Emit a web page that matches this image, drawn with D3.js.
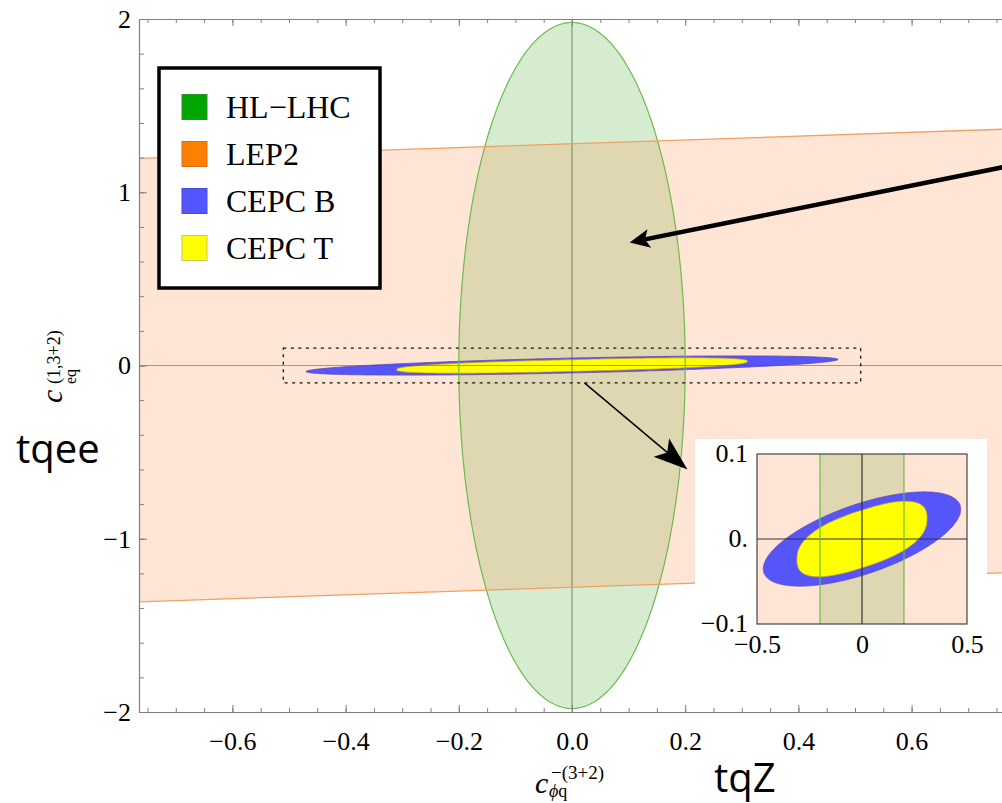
<!DOCTYPE html>
<html><head><meta charset="utf-8">
<script src="https://cdn.jsdelivr.net/npm/d3@7"></script>
<style>body{margin:0;background:#fff} svg{display:block}</style>
</head><body>
<svg id="c" width="1002" height="803"></svg>
<script>
// ---------- data ----------
const xTickValues = [-0.6, -0.4, -0.2, 0.0, 0.2, 0.4, 0.6];
const xTickLabels = ["−0.6", "−0.4", "−0.2", "0.0", "0.2", "0.4", "0.6"];
const yTickValues = [-2, -1, 0, 1, 2];
const yTickLabels = ["−2", "−1", "0", "1", "2"];
const insetXTickValues = [-0.5, 0, 0.5];
const insetXTickLabels = ["−0.5", "0", "0.5"];
const insetYTickValues = [-0.1, 0, 0.1];
const insetYTickLabels = ["−0.1", "0.", "0.1"];
const seriesNames = ["HL−LHC", "LEP2", "CEPC B", "CEPC T"];
// HL-LHC ellipse: [centerX, centerY, halfWidthX, halfHeightY]
const hlLhcEllipse = [0, 0, 0.2, 1.98];
// LEP2 band: y = slope*x ± halfWidth  -> [slope, halfWidth]
const lep2Band = [0.11, 1.28];
// CEPC contours: [halfWidthX, tilt dy/dx, halfHeight at x=0, shape exponent]
const cepcB = [0.47, 0.0745, 0.043, 2];
const cepcT = [0.31, 0.078, 0.034, 2.5];
// zoom window shown in the inset: [[xmin,xmax],[ymin,ymax]]
const zoomBox = [[-0.51, 0.51], [-0.1, 0.1]];
const insetDomain = [[-0.5, 0.5], [-0.1, 0.1]];
// annotation arrows in data coords: [[x0,y0],[x1,y1]]
const bigArrow = [[0.78, 1.157], [0.102, 0.71]];
const zoomArrow = [[0.022, -0.1], [0.204, -0.6]];

// ---------- styles ----------
const C = {
  greenFill: "#d5ecd0", greenLine: "#6cbb4c",
  bandFill: "rgba(250,154,92,0.26)", bandLine: "#f0a060",
  blue: "#5555fa", blueLine: "#6a4aa8",
  yellow: "#ffff00", yellowLine: "#c89a40",
  legend: ["#00a600", "#ff8000", "#5555ff", "#ffff00"],
  legendStroke: ["#2f8f2f", "#d07020", "#4a4ad0", "#c8c860"]
};
const serif = "'Liberation Serif','Times New Roman',serif";
const sans = "'Open Sans','DejaVu Sans',sans-serif";

const svg = d3.select("#c");
const x = d3.scaleLinear().domain([-0.765, 0.765]).range([139, 1005]);
const y = d3.scaleLinear().domain([-2, 2]).range([712, 19]);

function contour(p, steps = 360) {
  const [a, k, c, n] = p, pts = [];
  for (let i = 0; i < steps; i++) {
    const t = i / steps * 2 * Math.PI;
    const ct = Math.cos(t), st = Math.sin(t);
    const u = Math.sign(ct) * Math.pow(Math.abs(ct), 2 / n);
    const v = Math.sign(st) * Math.pow(Math.abs(st), 2 / n);
    pts.push([a * u, k * a * u + c * v]);
  }
  return pts;
}
function ellipse(e, steps = 360) {
  const [cx, cy, rx, ry] = e, pts = [];
  for (let i = 0; i < steps; i++) {
    const t = i / steps * 2 * Math.PI;
    pts.push([cx + rx * Math.cos(t), cy + ry * Math.sin(t)]);
  }
  return pts;
}

const defs = svg.append("defs");

function drawPanel(g, xs, ys, clipId, axisColors) {
  const [r0, r1] = xs.range(), [b0, b1] = ys.range();
  defs.append("clipPath").attr("id", clipId).append("rect")
    .attr("x", r0).attr("y", b1).attr("width", r1 - r0).attr("height", b0 - b1);
  const p = g.append("g").attr("clip-path", `url(#${clipId})`);
  const line = d3.line().x(d => xs(d[0])).y(d => ys(d[1])).curve(d3.curveLinearClosed);
  const hl = ellipse(hlLhcEllipse);
  p.append("path").attr("d", line(hl)).attr("fill", C.greenFill);
  const [s, h] = lep2Band;
  const xa = xs.domain()[0] - 1, xb = xs.domain()[1] + 1;
  const band = [[xa, s * xa + h], [xb, s * xb + h], [xb, s * xb - h], [xa, s * xa - h]];
  p.append("path").attr("d", line(band)).attr("fill", C.bandFill);
  p.append("path").attr("d", line(contour(cepcB))).attr("fill", C.blue)
    .attr("stroke", C.blueLine).attr("stroke-width", 0.8);
  p.append("path").attr("d", line(contour(cepcT))).attr("fill", C.yellow)
    .attr("stroke", C.yellowLine).attr("stroke-width", 0.8);
  p.append("line").attr("x1", r0).attr("x2", r1).attr("y1", ys(0)).attr("y2", ys(0))
    .attr("stroke", axisColors[0]).attr("stroke-width", 1.2);
  p.append("line").attr("x1", xs(0)).attr("x2", xs(0)).attr("y1", b0).attr("y2", b1)
    .attr("stroke", axisColors[1]).attr("stroke-width", 1.2);
  p.append("path").attr("d", line(hl)).attr("fill", "none")
    .attr("stroke", C.greenLine).attr("stroke-width", 1.2);
  const lf = d3.line().x(d => xs(d[0])).y(d => ys(d[1]));
  p.append("path").attr("d", lf([[xa, s * xa + h], [xb, s * xb + h]])).attr("stroke", C.bandLine).attr("stroke-width", 1.3).attr("fill", "none");
  p.append("path").attr("d", lf([[xa, s * xa - h], [xb, s * xb - h]])).attr("stroke", C.bandLine).attr("stroke-width", 1.3).attr("fill", "none");
}

// ---------- main panel ----------
const main = svg.append("g");
drawPanel(main, x, y, "clipMain", ["rgba(110,80,60,0.55)", "rgba(70,80,60,0.55)"]);

function styleAxis(g) {
  g.selectAll(".domain").attr("stroke", "#808080").attr("stroke-width", 1.2);
  g.selectAll(".tick line").attr("stroke", "#808080").attr("stroke-width", 1);
  g.selectAll("text").attr("font-family", serif).attr("font-size", 26).attr("fill", "#000");
}
const yMinor = y.ticks(20);
svg.append("g").attr("transform", "translate(139,0)")
  .call(d3.axisLeft(y).tickValues(yMinor).tickSize(-5).tickSizeOuter(0).tickFormat(""))
  .call(styleAxis);
svg.append("g").attr("transform", "translate(139,0)")
  .call(d3.axisLeft(y).tickValues(yTickValues).tickSize(-8).tickSizeOuter(0).tickPadding(8)
    .tickFormat((d, i) => yTickLabels[i]))
  .call(styleAxis).call(g => g.select(".domain").remove());
const xMinor = x.ticks(30);
[712, 19].forEach((ty, k) => {
  const ax = k === 0 ? d3.axisBottom(x) : d3.axisTop(x);
  svg.append("g").attr("transform", `translate(0,${ty})`)
    .call(ax.tickValues(xMinor).tickSize(-4).tickSizeOuter(0).tickFormat(""))
    .call(styleAxis);
  const ax2 = k === 0 ? d3.axisBottom(x) : d3.axisTop(x);
  svg.append("g").attr("transform", `translate(0,${ty})`)
    .call(ax2.tickValues(xTickValues).tickSize(-7).tickSizeOuter(0).tickPadding(20)
      .tickFormat((d, i) => k === 0 ? xTickLabels[i] : ""))
    .call(styleAxis).call(g => g.select(".domain").remove());
});

// zoom box (dotted)
svg.append("rect")
  .attr("x", x(zoomBox[0][0])).attr("y", y(zoomBox[1][1]))
  .attr("width", x(zoomBox[0][1]) - x(zoomBox[0][0]))
  .attr("height", y(zoomBox[1][0]) - y(zoomBox[1][1]))
  .attr("fill", "none").attr("stroke", "#111").attr("stroke-width", 1.3)
  .attr("stroke-dasharray", "3,4.5");

function arrow(a, lw, len, hw) {
  const x0 = x(a[0][0]), y0 = y(a[0][1]), x1 = x(a[1][0]), y1 = y(a[1][1]);
  const dx = x1 - x0, dy = y1 - y0, L = Math.hypot(dx, dy), ux = dx / L, uy = dy / L;
  const bx = x1 - ux * len, by = y1 - uy * len;
  const nx = bx + ux * len * 0.22, ny = by + uy * len * 0.22;
  svg.append("line").attr("x1", x0).attr("y1", y0).attr("x2", nx).attr("y2", ny)
    .attr("stroke", "#000").attr("stroke-width", lw);
  svg.append("path").attr("d",
    `M${x1},${y1} L${bx - uy * hw},${by + ux * hw} L${nx},${ny} L${bx + uy * hw},${by - ux * hw} Z`)
    .attr("fill", "#000");
}
arrow(bigArrow, 4.5, 20, 9.5);
arrow(zoomArrow, 1.5, 34, 12);

// ---------- inset ----------
svg.append("rect").attr("x", 695).attr("y", 439).attr("width", 292).attr("height", 251).attr("fill", "#fff");
const xi = d3.scaleLinear().domain(insetDomain[0]).range([757, 967]);
const yi = d3.scaleLinear().domain(insetDomain[1]).range([624, 454]);
const inset = svg.append("g");
drawPanel(inset, xi, yi, "clipInset", ["#333", "#333"]);
inset.append("rect").attr("x", 757).attr("y", 454).attr("width", 210).attr("height", 170)
  .attr("fill", "none").attr("stroke", "#444").attr("stroke-width", 1.2);
inset.append("g").attr("transform", "translate(757,0)")
  .call(d3.axisLeft(yi).tickValues(insetYTickValues).tickSize(0).tickPadding(9)
    .tickFormat((d, i) => insetYTickLabels[i]))
  .call(styleAxis).call(g => g.select(".domain").remove())
  .call(g => g.selectAll("text").attr("dy", "0.28em"));
inset.append("g").attr("transform", "translate(0,624)")
  .call(d3.axisBottom(xi).tickValues(insetXTickValues).tickSize(0).tickPadding(11)
    .tickFormat((d, i) => insetXTickLabels[i]))
  .call(styleAxis).call(g => g.select(".domain").remove());

// ---------- legend ----------
const lg = svg.append("g");
lg.append("rect").attr("x", 159).attr("y", 68).attr("width", 221).attr("height", 220)
  .attr("fill", "#fff").attr("stroke", "#000").attr("stroke-width", 3.5);
seriesNames.forEach((n, i) => {
  const cy = 107 + i * 47;
  lg.append("rect").attr("x", 182).attr("y", cy - 12.5).attr("width", 25).attr("height", 25)
    .attr("fill", C.legend[i]).attr("stroke", C.legendStroke[i]).attr("stroke-width", 1);
  lg.append("text").attr("x", 226).attr("y", cy + 10.5).text(n)
    .attr("font-family", serif).attr("font-size", 32).attr("fill", "#000");
});

// ---------- axis labels ----------
const yl = svg.append("text").attr("transform", "translate(62,403) rotate(-90)")
  .attr("font-family", serif).attr("fill", "#000");
yl.append("tspan").attr("x", 0).attr("y", 0).attr("font-size", 30).attr("font-style", "italic").text("c");
yl.append("tspan").attr("x", 19).attr("y", -2).attr("font-size", 18).text("(1,3+2)");
yl.append("tspan").attr("x", 19).attr("y", 14).attr("font-size", 16).text("eq");

const xl = svg.append("text").attr("font-family", serif).attr("fill", "#000");
xl.append("tspan").attr("x", 535).attr("y", 793).attr("font-size", 30).attr("font-style", "italic").text("c");
xl.append("tspan").attr("x", 551).attr("y", 779).attr("font-size", 19).text("−(3+2)");
xl.append("tspan").attr("x", 549).attr("y", 797).attr("font-size", 18).attr("font-style", "italic").text("ϕ");
xl.append("tspan").attr("font-size", 18).text("q");

svg.append("text").attr("x", 16).attr("y", 463).attr("font-family", sans).attr("font-size", 40)
  .attr("fill", "#000").text("tqee");
svg.append("text").attr("x", 714).attr("y", 792).attr("font-family", sans).attr("font-size", 40)
  .attr("fill", "#000").text("tqZ");
</script>
</body></html>
